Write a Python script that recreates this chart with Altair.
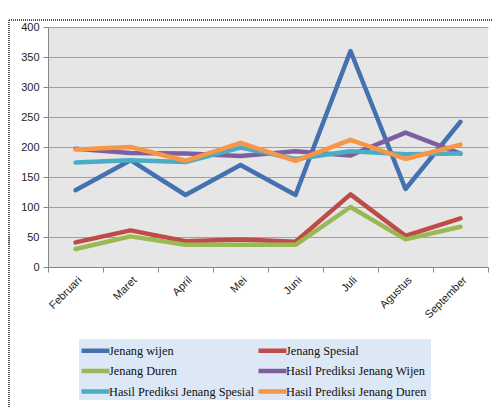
import altair as alt
import pandas as pd

months = ["Februari", "Maret", "April", "Mei", "Juni", "Juli", "Agustus", "September"]

series_names = [
    "Jenang wijen",
    "Jenang Spesial",
    "Jenang Duren",
    "Hasil Prediksi Jenang Wijen",
    "Hasil Prediksi Jenang Spesial",
    "Hasil Prediksi Jenang Duren",
]
series_colors = ["#4472B0", "#BE4B48", "#98B954", "#7D5FA0", "#4AACC5", "#F79646"]

jenang_wijen = [128, 178, 120, 170, 120, 360, 130, 242]
jenang_spesial = [41, 61, 43, 46, 42, 121, 52, 81]
jenang_duren = [30, 51, 37, 37, 37, 100, 46, 67]
prediksi_wijen = [197, 190, 189, 185, 193, 186, 224, 189]
prediksi_spesial = [174, 178, 175, 199, 180, 193, 188, 189]
prediksi_duren = [196, 200, 177, 207, 177, 212, 180, 204]

values = [jenang_wijen, jenang_spesial, jenang_duren,
          prediksi_wijen, prediksi_spesial, prediksi_duren]

rows = []
for name, vals in zip(series_names, values):
    for m, v in zip(months, vals):
        rows.append({"bulan": m, "nilai": v, "seri": name})
df = pd.DataFrame(rows)

lines = alt.Chart(df).mark_line(
    strokeWidth=4.5, strokeCap="round", strokeJoin="round"
).encode(
    x=alt.X("bulan:N", sort=months, title=None,
            scale=alt.Scale(paddingInner=0, paddingOuter=0),
            axis=alt.Axis(labelAngle=-45, labelFont="Liberation Sans", labelFontSize=11,
                          labelColor="#222222", tickBand="extent", tickSize=5,
                          tickColor="#888888", domainColor="#888888", labelPadding=2,
                          grid=False)),
    y=alt.Y("nilai:Q", title=None,
            scale=alt.Scale(domain=[0, 400], nice=False),
            axis=alt.Axis(values=[0, 50, 100, 150, 200, 250, 300, 350, 400],
                          labelFont="Liberation Sans", labelFontSize=11,
                          labelColor="#222222", tickSize=5, tickColor="#888888",
                          domainColor="#888888", labelPadding=4,
                          gridColor="#A0A0A0", gridWidth=1.2)),
    color=alt.Color("seri:N", sort=series_names,
                    scale=alt.Scale(domain=series_names, range=series_colors),
                    legend=alt.Legend(
                        title=None, orient="none", legendX=38, legendY=314,
                        direction="horizontal", columns=2, columnPadding=-6,
                        rowPadding=1.5,
                        # long flat stroke: twice the width of the nominal symbol box
                        symbolType="M-2,0H2", symbolSize=196, symbolStrokeWidth=4.5,
                        labelFont="Liberation Serif", labelFontSize=12.3,
                        labelColor="#111111", labelOffset=4, labelLimit=300,
                        padding=0, offset=0)),
)

# light blue panel behind the legend entries
legend_panel = alt.Chart(df).mark_rect(color="#DCE8F5").encode(
    x=alt.value(31), x2=alt.value(383), y=alt.value(312), y2=alt.value(373)
)

# dotted outer frame of the chart object
frame_top = alt.Chart(df).mark_rule(
    color="#555555", strokeDash=[1, 1], strokeWidth=1
).encode(x=alt.value(-39), x2=alt.value(444), y=alt.value(-7))
frame_left = alt.Chart(df).mark_rule(
    color="#555555", strokeDash=[1, 1], strokeWidth=1
).encode(x=alt.value(-39), y=alt.value(-7), y2=alt.value(380))

chart = alt.layer(frame_top, frame_left, legend_panel, lines).properties(
    width=440, height=240,
    padding={"left": 48, "top": 27, "right": 4, "bottom": 140},
    autosize=alt.AutoSizeParams(type="none"),
    background="white",
).configure_view(
    fill="#E6E6E6", stroke=None
)

chart.save("out.html", embed_options={"renderer": "svg", "actions": False})
